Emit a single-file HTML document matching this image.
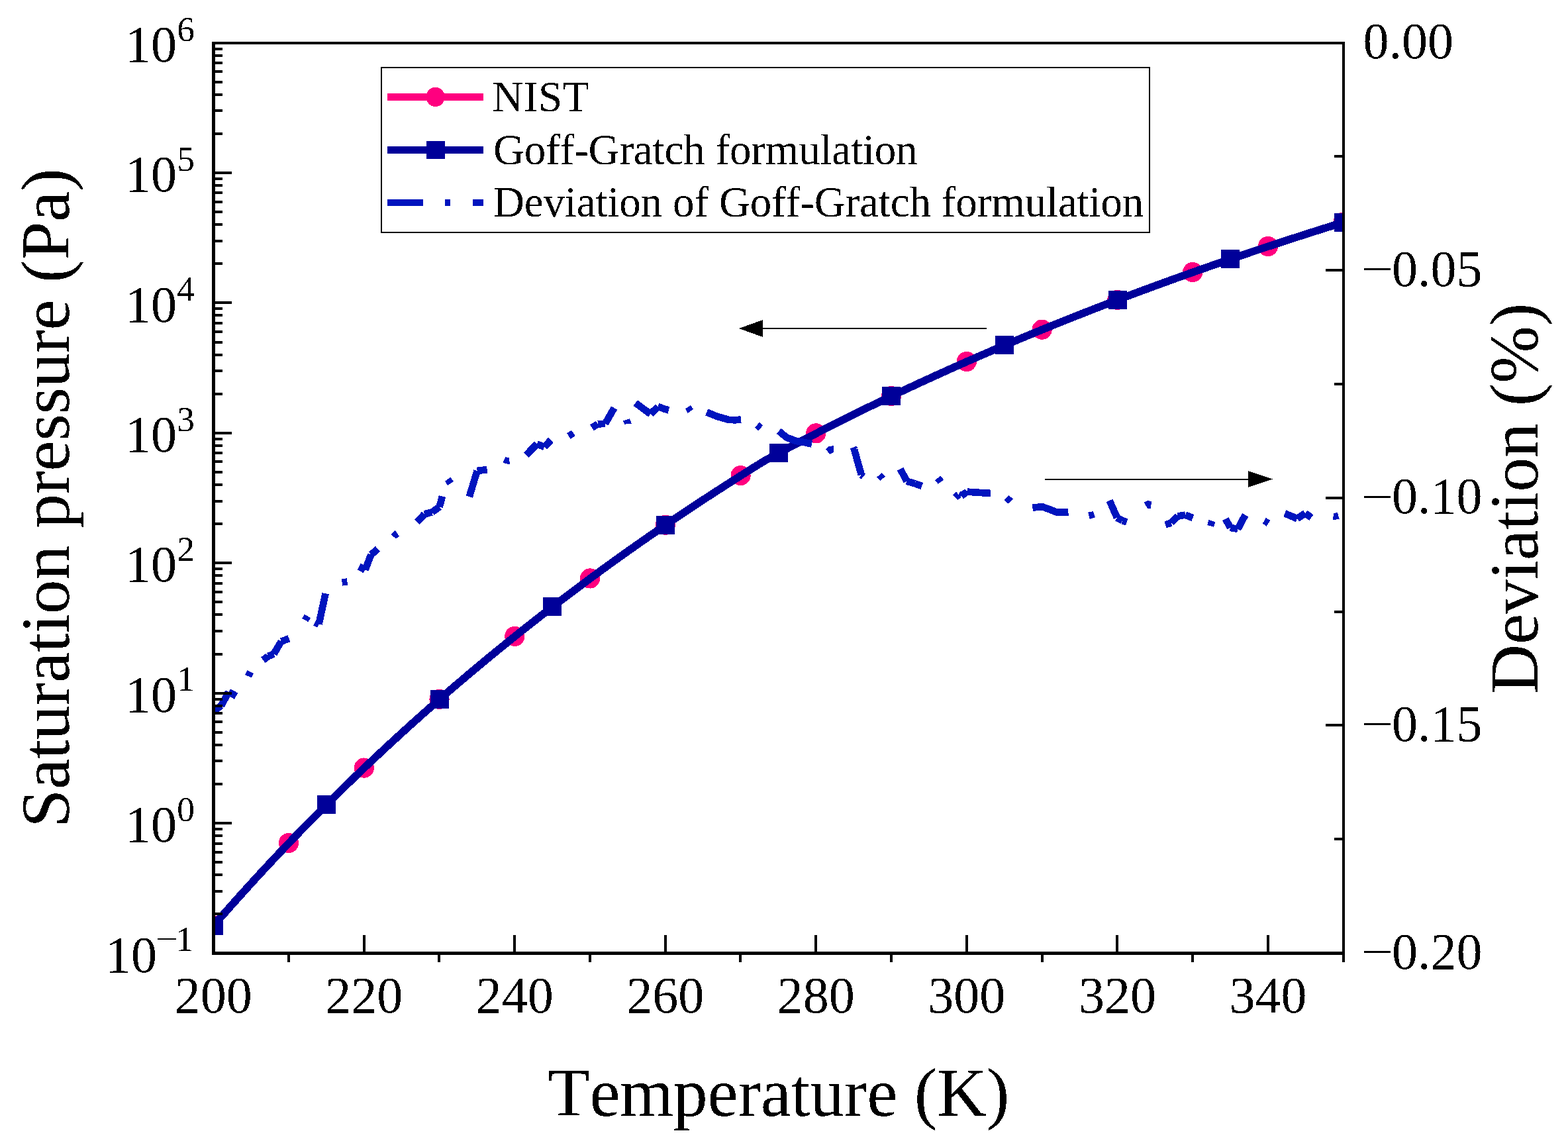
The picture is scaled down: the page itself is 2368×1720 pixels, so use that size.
<!DOCTYPE html>
<html lang="en"><head><meta charset="utf-8"><title>Saturation pressure vs temperature</title>
<style>html,body{margin:0;padding:0;background:#fff}svg{display:block}text{font-family:"Liberation Serif","DejaVu Serif",serif;fill:#000;font-kerning:none;font-variant-ligatures:none}.t{font-size:78px}.l{font-size:104px}.g{font-size:65px}.s{font-size:53.5px}</style></head><body>
<svg width="2368" height="1720" viewBox="0 0 2368 1720" role="img" aria-label="Saturation pressure and deviation versus temperature">
<rect width="2368" height="1720" fill="#fff"/>
<defs><filter id="bin" filterUnits="userSpaceOnUse" x="0" y="0" width="2368" height="1720" color-interpolation-filters="sRGB"><feComponentTransfer><feFuncA type="discrete" tableValues="0 0 1 1"/></feComponentTransfer></filter><clipPath id="ax"><rect x="322.5" y="65" width="1706.5" height="1374.5"/></clipPath></defs>
<g clip-path="url(#ax)" shape-rendering="crispEdges">
<path d="M322.5 1397.85 L328.19 1391.33 L333.88 1384.83 L339.56 1378.37 L345.25 1371.93 L350.94 1365.53 L356.63 1359.16 L362.32 1352.82 L368.01 1346.52 L373.69 1340.24 L379.38 1333.99 L385.07 1327.77 L390.76 1321.59 L396.45 1315.43 L402.14 1309.3 L407.82 1303.2 L413.51 1297.13 L419.2 1291.09 L424.89 1285.08 L430.58 1279.1 L436.27 1273.14 L441.95 1267.21 L447.64 1261.31 L453.33 1255.44 L459.02 1249.6 L464.71 1243.78 L470.4 1237.99 L476.09 1232.23 L481.77 1226.49 L487.46 1220.78 L493.15 1215.1 L498.84 1209.44 L504.53 1203.81 L510.22 1198.21 L515.9 1192.63 L521.59 1187.07 L527.28 1181.54 L532.97 1176.04 L538.66 1170.56 L544.35 1165.11 L550.03 1159.68 L555.72 1154.27 L561.41 1148.89 L567.1 1143.54 L572.79 1138.21 L578.48 1132.9 L584.16 1127.61 L589.85 1122.35 L595.54 1117.11 L601.23 1111.9 L606.92 1106.71 L612.61 1101.54 L618.29 1096.39 L623.98 1091.27 L629.67 1086.17 L635.36 1081.09 L641.05 1076.04 L646.74 1071 L652.42 1065.99 L658.11 1061 L663.8 1056.03 L669.49 1051.08 L675.18 1046.16 L680.87 1041.25 L686.55 1036.37 L692.24 1031.51 L697.93 1026.66 L703.62 1021.84 L709.31 1017.04 L715 1012.26 L720.68 1007.5 L726.37 1002.76 L732.06 998.04 L737.75 993.34 L743.44 988.66 L749.12 984 L754.81 979.36 L760.5 974.74 L766.19 970.14 L771.88 965.56 L777.57 960.99 L783.25 956.45 L788.94 951.92 L794.63 947.42 L800.32 942.93 L806.01 938.46 L811.7 934.01 L817.38 929.57 L823.07 925.16 L828.76 920.76 L834.45 916.38 L840.14 912.02 L845.83 907.68 L851.51 903.35 L857.2 899.04 L862.89 894.75 L868.58 890.48 L874.27 886.22 L879.96 881.98 L885.64 877.76 L891.33 873.56 L897.02 869.37 L902.71 865.2 L908.4 861.04 L914.09 856.9 L919.77 852.78 L925.46 848.67 L931.15 844.59 L936.84 840.51 L942.53 836.46 L948.22 832.41 L953.9 828.39 L959.59 824.38 L965.28 820.39 L970.97 816.41 L976.66 812.44 L982.35 808.5 L988.03 804.57 L993.72 800.65 L999.41 796.75 L1005.1 792.86 L1010.79 788.99 L1016.48 785.13 L1022.16 781.29 L1027.85 777.47 L1033.54 773.65 L1039.23 769.86 L1044.92 766.07 L1050.61 762.3 L1056.3 758.55 L1061.98 754.81 L1067.67 751.08 L1073.36 747.37 L1079.05 743.67 L1084.74 739.99 L1090.42 736.32 L1096.11 732.67 L1101.8 729.02 L1107.49 725.39 L1113.18 721.78 L1118.87 718.18 L1124.55 714.59 L1130.24 711.02 L1135.93 707.45 L1141.62 703.91 L1147.31 700.37 L1153 696.85 L1158.68 693.61 L1164.37 690.53 L1170.06 687.46 L1175.75 684.4 L1181.44 681.35 L1187.13 678.32 L1192.82 675.3 L1198.5 672.29 L1204.19 669.3 L1209.88 666.31 L1215.57 663.34 L1221.26 660.38 L1226.95 657.43 L1232.63 654.5 L1238.32 651.57 L1244.01 648.66 L1249.7 645.76 L1255.39 642.87 L1261.08 639.99 L1266.76 637.13 L1272.45 634.27 L1278.14 631.43 L1283.83 628.59 L1289.52 625.77 L1295.2 622.96 L1300.89 620.17 L1306.58 617.38 L1312.27 614.6 L1317.96 611.84 L1323.65 609.08 L1329.34 606.34 L1335.02 603.6 L1340.71 600.88 L1346.4 598.17 L1352.09 595.47 L1357.78 592.78 L1363.46 590.1 L1369.15 587.43 L1374.84 584.77 L1380.53 582.12 L1386.22 579.48 L1391.91 576.85 L1397.6 574.23 L1403.28 571.62 L1408.97 569.02 L1414.66 566.43 L1420.35 563.86 L1426.04 561.29 L1431.72 558.73 L1437.41 556.18 L1443.1 553.64 L1448.79 551.11 L1454.48 548.59 L1460.17 546.08 L1465.86 543.57 L1471.54 541.08 L1477.23 538.6 L1482.92 536.13 L1488.61 533.66 L1494.3 531.21 L1499.98 528.76 L1505.67 526.32 L1511.36 523.9 L1517.05 521.48 L1522.74 519.07 L1528.43 516.67 L1534.12 514.28 L1539.8 511.89 L1545.49 509.52 L1551.18 507.15 L1556.87 504.8 L1562.56 502.45 L1568.24 500.11 L1573.93 497.78 L1579.62 495.46 L1585.31 493.15 L1591 490.84 L1596.69 488.54 L1602.38 486.26 L1608.06 483.98 L1613.75 481.7 L1619.44 479.44 L1625.13 477.19 L1630.82 474.94 L1636.51 472.7 L1642.19 470.47 L1647.88 468.25 L1653.57 466.03 L1659.26 463.83 L1664.95 461.63 L1670.63 459.44 L1676.32 457.25 L1682.01 455.08 L1687.7 452.91 L1693.39 450.75 L1699.08 448.6 L1704.77 446.45 L1710.45 444.32 L1716.14 442.19 L1721.83 440.06 L1727.52 437.95 L1733.21 435.84 L1738.89 433.74 L1744.58 431.65 L1750.27 429.57 L1755.96 427.49 L1761.65 425.42 L1767.34 423.36 L1773.03 421.3 L1778.71 419.25 L1784.4 417.21 L1790.09 415.18 L1795.78 413.15 L1801.47 411.13 L1807.15 409.12 L1812.84 407.11 L1818.53 405.11 L1824.22 403.12 L1829.91 401.13 L1835.6 399.15 L1841.29 397.18 L1846.97 395.22 L1852.66 393.26 L1858.35 391.3 L1864.04 389.36 L1869.73 387.42 L1875.41 385.49 L1881.1 383.56 L1886.79 381.64 L1892.48 379.73 L1898.17 377.83 L1903.86 375.93 L1909.55 374.03 L1915.23 372.15 L1920.92 370.27 L1926.61 368.39 L1932.3 366.52 L1937.99 364.66 L1943.67 362.81 L1949.36 360.96 L1955.05 359.12 L1960.74 357.28 L1966.43 355.45 L1972.12 353.62 L1977.81 351.81 L1983.49 349.99 L1989.18 348.19 L1994.87 346.39 L2000.56 344.59 L2006.25 342.8 L2011.93 341.02 L2017.62 339.24 L2023.31 337.47 L2029 335.71" fill="none" stroke="#ff007f" stroke-width="11.6" stroke-linejoin="round"/>
<circle cx="322.2" cy="1397.75" r="15.1" fill="#ff007f"/>
<circle cx="435.97" cy="1273.04" r="15.1" fill="#ff007f"/>
<circle cx="549.73" cy="1159.58" r="15.1" fill="#ff007f"/>
<circle cx="663.5" cy="1055.93" r="15.1" fill="#ff007f"/>
<circle cx="777.27" cy="960.89" r="15.1" fill="#ff007f"/>
<circle cx="891.03" cy="873.46" r="15.1" fill="#ff007f"/>
<circle cx="1004.8" cy="792.76" r="15.1" fill="#ff007f"/>
<circle cx="1118.57" cy="718.08" r="15.1" fill="#ff007f"/>
<circle cx="1232.33" cy="654.4" r="15.1" fill="#ff007f"/>
<circle cx="1346.1" cy="598.07" r="15.1" fill="#ff007f"/>
<circle cx="1459.87" cy="545.98" r="15.1" fill="#ff007f"/>
<circle cx="1573.63" cy="497.68" r="15.1" fill="#ff007f"/>
<circle cx="1687.4" cy="452.81" r="15.1" fill="#ff007f"/>
<circle cx="1801.17" cy="411.03" r="15.1" fill="#ff007f"/>
<circle cx="1914.93" cy="372.05" r="15.1" fill="#ff007f"/>
<circle cx="2028.7" cy="335.61" r="15.1" fill="#ff007f"/>
<path d="M322.5 1397.85 L328.19 1391.33 L333.88 1384.83 L339.56 1378.37 L345.25 1371.93 L350.94 1365.53 L356.63 1359.16 L362.32 1352.82 L368.01 1346.52 L373.69 1340.24 L379.38 1333.99 L385.07 1327.77 L390.76 1321.59 L396.45 1315.43 L402.14 1309.3 L407.82 1303.2 L413.51 1297.13 L419.2 1291.09 L424.89 1285.08 L430.58 1279.1 L436.27 1273.14 L441.95 1267.21 L447.64 1261.31 L453.33 1255.44 L459.02 1249.6 L464.71 1243.78 L470.4 1237.99 L476.09 1232.23 L481.77 1226.49 L487.46 1220.78 L493.15 1215.1 L498.84 1209.44 L504.53 1203.81 L510.22 1198.21 L515.9 1192.63 L521.59 1187.07 L527.28 1181.54 L532.97 1176.04 L538.66 1170.56 L544.35 1165.11 L550.03 1159.68 L555.72 1154.27 L561.41 1148.89 L567.1 1143.54 L572.79 1138.21 L578.48 1132.9 L584.16 1127.61 L589.85 1122.35 L595.54 1117.11 L601.23 1111.9 L606.92 1106.71 L612.61 1101.54 L618.29 1096.39 L623.98 1091.27 L629.67 1086.17 L635.36 1081.09 L641.05 1076.04 L646.74 1071 L652.42 1065.99 L658.11 1061 L663.8 1056.03 L669.49 1051.08 L675.18 1046.16 L680.87 1041.25 L686.55 1036.37 L692.24 1031.51 L697.93 1026.66 L703.62 1021.84 L709.31 1017.04 L715 1012.26 L720.68 1007.5 L726.37 1002.76 L732.06 998.04 L737.75 993.34 L743.44 988.66 L749.12 984 L754.81 979.36 L760.5 974.74 L766.19 970.14 L771.88 965.56 L777.57 960.99 L783.25 956.45 L788.94 951.92 L794.63 947.42 L800.32 942.93 L806.01 938.46 L811.7 934.01 L817.38 929.57 L823.07 925.16 L828.76 920.76 L834.45 916.38 L840.14 912.02 L845.83 907.68 L851.51 903.35 L857.2 899.04 L862.89 894.75 L868.58 890.48 L874.27 886.22 L879.96 881.98 L885.64 877.76 L891.33 873.56 L897.02 869.37 L902.71 865.2 L908.4 861.04 L914.09 856.9 L919.77 852.78 L925.46 848.67 L931.15 844.59 L936.84 840.51 L942.53 836.46 L948.22 832.41 L953.9 828.39 L959.59 824.38 L965.28 820.39 L970.97 816.41 L976.66 812.44 L982.35 808.5 L988.03 804.57 L993.72 800.65 L999.41 796.75 L1005.1 792.86 L1010.79 788.99 L1016.48 785.13 L1022.16 781.29 L1027.85 777.47 L1033.54 773.65 L1039.23 769.86 L1044.92 766.07 L1050.61 762.3 L1056.3 758.55 L1061.98 754.81 L1067.67 751.08 L1073.36 747.37 L1079.05 743.67 L1084.74 739.99 L1090.42 736.32 L1096.11 732.67 L1101.8 729.02 L1107.49 725.39 L1113.18 721.78 L1118.87 718.18 L1124.55 714.59 L1130.24 711.02 L1135.93 707.45 L1141.62 703.91 L1147.31 700.37 L1153 696.85 L1158.68 693.61 L1164.37 690.53 L1170.06 687.46 L1175.75 684.4 L1181.44 681.35 L1187.13 678.32 L1192.82 675.3 L1198.5 672.29 L1204.19 669.3 L1209.88 666.31 L1215.57 663.34 L1221.26 660.38 L1226.95 657.43 L1232.63 654.5 L1238.32 651.57 L1244.01 648.66 L1249.7 645.76 L1255.39 642.87 L1261.08 639.99 L1266.76 637.13 L1272.45 634.27 L1278.14 631.43 L1283.83 628.59 L1289.52 625.77 L1295.2 622.96 L1300.89 620.17 L1306.58 617.38 L1312.27 614.6 L1317.96 611.84 L1323.65 609.08 L1329.34 606.34 L1335.02 603.6 L1340.71 600.88 L1346.4 598.17 L1352.09 595.47 L1357.78 592.78 L1363.46 590.1 L1369.15 587.43 L1374.84 584.77 L1380.53 582.12 L1386.22 579.48 L1391.91 576.85 L1397.6 574.23 L1403.28 571.62 L1408.97 569.02 L1414.66 566.43 L1420.35 563.86 L1426.04 561.29 L1431.72 558.73 L1437.41 556.18 L1443.1 553.64 L1448.79 551.11 L1454.48 548.59 L1460.17 546.08 L1465.86 543.57 L1471.54 541.08 L1477.23 538.6 L1482.92 536.13 L1488.61 533.66 L1494.3 531.21 L1499.98 528.76 L1505.67 526.32 L1511.36 523.9 L1517.05 521.48 L1522.74 519.07 L1528.43 516.67 L1534.12 514.28 L1539.8 511.89 L1545.49 509.52 L1551.18 507.15 L1556.87 504.8 L1562.56 502.45 L1568.24 500.11 L1573.93 497.78 L1579.62 495.46 L1585.31 493.15 L1591 490.84 L1596.69 488.54 L1602.38 486.26 L1608.06 483.98 L1613.75 481.7 L1619.44 479.44 L1625.13 477.19 L1630.82 474.94 L1636.51 472.7 L1642.19 470.47 L1647.88 468.25 L1653.57 466.03 L1659.26 463.83 L1664.95 461.63 L1670.63 459.44 L1676.32 457.25 L1682.01 455.08 L1687.7 452.91 L1693.39 450.75 L1699.08 448.6 L1704.77 446.45 L1710.45 444.32 L1716.14 442.19 L1721.83 440.06 L1727.52 437.95 L1733.21 435.84 L1738.89 433.74 L1744.58 431.65 L1750.27 429.57 L1755.96 427.49 L1761.65 425.42 L1767.34 423.36 L1773.03 421.3 L1778.71 419.25 L1784.4 417.21 L1790.09 415.18 L1795.78 413.15 L1801.47 411.13 L1807.15 409.12 L1812.84 407.11 L1818.53 405.11 L1824.22 403.12 L1829.91 401.13 L1835.6 399.15 L1841.29 397.18 L1846.97 395.22 L1852.66 393.26 L1858.35 391.3 L1864.04 389.36 L1869.73 387.42 L1875.41 385.49 L1881.1 383.56 L1886.79 381.64 L1892.48 379.73 L1898.17 377.83 L1903.86 375.93 L1909.55 374.03 L1915.23 372.15 L1920.92 370.27 L1926.61 368.39 L1932.3 366.52 L1937.99 364.66 L1943.67 362.81 L1949.36 360.96 L1955.05 359.12 L1960.74 357.28 L1966.43 355.45 L1972.12 353.62 L1977.81 351.81 L1983.49 349.99 L1989.18 348.19 L1994.87 346.39 L2000.56 344.59 L2006.25 342.8 L2011.93 341.02 L2017.62 339.24 L2023.31 337.47 L2029 335.71" fill="none" stroke="#000099" stroke-width="11.6" stroke-linejoin="round"/>
<rect x="308.5" y="1383.85" width="28" height="28" fill="#000099"/>
<rect x="479.15" y="1201.1" width="28" height="28" fill="#000099"/>
<rect x="649.8" y="1042.03" width="28" height="28" fill="#000099"/>
<rect x="820.45" y="902.38" width="28" height="28" fill="#000099"/>
<rect x="991.1" y="778.86" width="28" height="28" fill="#000099"/>
<rect x="1161.75" y="670.4" width="28" height="28" fill="#000099"/>
<rect x="1332.4" y="584.17" width="28" height="28" fill="#000099"/>
<rect x="1503.05" y="507.48" width="28" height="28" fill="#000099"/>
<rect x="1673.7" y="438.91" width="28" height="28" fill="#000099"/>
<rect x="1844.35" y="377.3" width="28" height="28" fill="#000099"/>
<rect x="2015" y="321.71" width="28" height="28" fill="#000099"/>
<path d="M322.5 1073.7 L333.9 1065.7 M333.9 1065.7 L345.4 1044.9 M345.4 1044.9 L356.6 1051.2" fill="none" stroke="#0014be" stroke-width="10.7"/>
<path d="M397.4 996.8 L405 991 M405 991 L413.5 987.6 M413.5 987.6 L424.8 968.5 M424.8 968.5 L436.5 964.4" fill="none" stroke="#0014be" stroke-width="10.7"/>
<path d="M475.8 939.8 L481.5 942.6 M481.5 942.6 L491.6 896.3" fill="none" stroke="#0014be" stroke-width="10.7"/>
<path d="M542.1 855.6 L551.4 860.6 M551.4 860.6 L560.4 837.6 M560.4 837.6 L570.5 828.9" fill="none" stroke="#0014be" stroke-width="10.7"/>
<path d="M629.8 788.5 L641 776.4 M641 776.4 L652.4 773.5 M652.4 773.5 L663.7 765.5 M663.7 765.5 L668 749.5" fill="none" stroke="#0014be" stroke-width="10.7"/>
<path d="M708.8 750.1 L720.6 711 M720.6 711 L735.7 709.1" fill="none" stroke="#0014be" stroke-width="10.7"/>
<path d="M794.8 686.9 L810.8 670.6 M810.8 670.6 L822.1 674.9 M822.1 674.9 L831.9 664.5" fill="none" stroke="#0014be" stroke-width="10.7"/>
<path d="M893.9 645.9 L902.7 640.4 M902.7 640.4 L914 639.9 M914 639.9 L927.6 616" fill="none" stroke="#0014be" stroke-width="10.7"/>
<path d="M959.7 608.5 L982.3 625.2 M982.3 625.2 L993.6 614.1 M993.6 614.1 L1005.1 618.1 M1005.1 618.1 L1010 619.4" fill="none" stroke="#0014be" stroke-width="10.7"/>
<path d="M1067.2 622.5 L1083.5 629.1 L1100.8 633.9 L1110.9 634.3 L1119 633.4" fill="none" stroke="#0014be" stroke-width="10.7" stroke-linejoin="round"/>
<path d="M1176.2 650.9 L1187.7 660.5 L1201.7 665.8 L1215.7 668.2 L1226 670.5" fill="none" stroke="#0014be" stroke-width="10.7" stroke-linejoin="round"/>
<path d="M1288.8 675.5 L1290.1 678.8 M1290.1 678.8 L1300.8 716.9 M1300.8 716.9 L1304.1 719.5" fill="none" stroke="#0014be" stroke-width="10.7"/>
<path d="M1359.7 708.2 L1369.3 726.6 M1369.3 726.6 L1381.6 730.2 M1381.6 730.2 L1392.3 734" fill="none" stroke="#0014be" stroke-width="10.7"/>
<path d="M1442.8 751.3 L1447.7 746.9 M1447.7 746.9 L1451.7 748.9 M1451.7 748.9 L1460.4 742.6 M1460.4 742.6 L1480.4 744 M1480.4 744 L1495.8 744.9" fill="none" stroke="#0014be" stroke-width="10.7"/>
<path d="M1559.4 766.5 L1574.1 765.3 L1585.5 769.3 L1596.2 773.8 L1613.5 773.6" fill="none" stroke="#0014be" stroke-width="10.7" stroke-linejoin="round"/>
<path d="M1675.6 755.9 L1687 781.8 M1687 781.8 L1695 786.3 M1695 786.3 L1701.7 788.3" fill="none" stroke="#0014be" stroke-width="10.7"/>
<path d="M1760 792.3 L1768.7 789.6 M1768.7 789.6 L1778.7 779.6 M1778.7 779.6 L1790.1 777.6 M1790.1 777.6 L1801.4 782.2" fill="none" stroke="#0014be" stroke-width="10.7"/>
<path d="M1850.9 783.6 L1857.9 796.9 M1857.9 796.9 L1869.3 798.9 M1869.3 798.9 L1880.6 777.6" fill="none" stroke="#0014be" stroke-width="10.7"/>
<path d="M1940.3 775.3 L1959 783.2 M1959 783.2 L1971.1 775.2 M1971.1 775.2 L1980.4 781.6" fill="none" stroke="#0014be" stroke-width="10.7"/>
<path d="M374.9 1021.2 L378.1 1014.5" fill="none" stroke="#0014be" stroke-width="10.7"/>
<path d="M460.9 936.5 L464.4 930.4" fill="none" stroke="#0014be" stroke-width="10.7"/>
<polygon points="516,874.3 524,873.3 525,883.7 517,884.6" fill="#0014be"/>
<polygon points="590.2,806.9 596.8,800.9 602.8,809.6 598.2,813.6" fill="#0014be"/>
<polygon points="672,726.7 680.3,720.7 685,727 676,733" fill="#0014be"/>
<polygon points="763.4,690.3 768.7,690.9 770.1,701.6 759.4,698.9" fill="#0014be"/>
<polygon points="856.2,654.2 862.9,649.8 868.9,658.2 861.5,662.9" fill="#0014be"/>
<polygon points="941,635.5 951,632.2 953.7,639.5 943,640.8" fill="#0014be"/>
<polygon points="1035,617.5 1043,612.1 1047,617.9 1038.7,623.9" fill="#0014be"/>
<polygon points="1146.9,637.9 1152,642.8 1144.9,650.9 1139.8,645.5" fill="#0014be"/>
<polygon points="1246.9,678.1 1252,674.1 1258.7,673.2 1258.7,683.1 1253.1,686.1" fill="#0014be"/>
<polygon points="1324.1,720.6 1331.9,713.9 1337.2,719.3 1329.5,725.8" fill="#0014be"/>
<polygon points="1412,724.9 1420.3,718.9 1425.3,724.5 1416.6,730.9" fill="#0014be"/>
<polygon points="1516.7,754.9 1523.8,748 1529.8,753.6 1522.1,760.9" fill="#0014be"/>
<polygon points="1643.2,773.8 1650.7,772 1653.9,781.3 1645.9,784" fill="#0014be"/>
<polygon points="1727.7,758.9 1733.7,755.9 1739.1,757.3 1737.7,768 1733.1,768" fill="#0014be"/>
<polygon points="1825.5,784.9 1835.5,788.3 1832.8,795.6 1823.1,792.9" fill="#0014be"/>
<polygon points="1907,790.3 1911.6,781.8 1918.3,785.9 1915,790.9 1912.3,794.9" fill="#0014be"/>
<polygon points="2014.5,774.9 2019.8,774.2 2022.9,784.2 2012.7,784.9" fill="#0014be"/>
</g>
<g shape-rendering="crispEdges" fill="#000">
<rect x="1150" y="495" width="340" height="2"/>
<polygon points="1116,496 1152,483 1152,509"/>
<rect x="1578" y="723" width="309" height="2"/>
<polygon points="1922,723.6 1885,711 1885,736"/>
</g>
<g shape-rendering="crispEdges" fill="#000">
<rect x="322" y="200" width="14" height="4"/>
<rect x="322" y="165" width="14" height="4"/>
<rect x="322" y="141" width="14" height="4"/>
<rect x="322" y="122" width="14" height="4"/>
<rect x="322" y="106" width="14" height="4"/>
<rect x="322" y="93" width="14" height="4"/>
<rect x="322" y="82" width="14" height="4"/>
<rect x="322" y="72" width="14" height="4"/>
<rect x="322" y="259" width="28" height="4"/>
<rect x="322" y="396" width="14" height="4"/>
<rect x="322" y="362" width="14" height="4"/>
<rect x="322" y="337" width="14" height="4"/>
<rect x="322" y="318" width="14" height="4"/>
<rect x="322" y="303" width="14" height="4"/>
<rect x="322" y="289" width="14" height="4"/>
<rect x="322" y="278" width="14" height="4"/>
<rect x="322" y="268" width="14" height="4"/>
<rect x="322" y="455" width="28" height="4"/>
<rect x="322" y="593" width="14" height="4"/>
<rect x="322" y="558" width="14" height="4"/>
<rect x="322" y="534" width="14" height="4"/>
<rect x="322" y="515" width="14" height="4"/>
<rect x="322" y="499" width="14" height="4"/>
<rect x="322" y="486" width="14" height="4"/>
<rect x="322" y="474" width="14" height="4"/>
<rect x="322" y="464" width="14" height="4"/>
<rect x="322" y="652" width="28" height="4"/>
<rect x="322" y="789" width="14" height="4"/>
<rect x="322" y="755" width="14" height="4"/>
<rect x="322" y="730" width="14" height="4"/>
<rect x="322" y="711" width="14" height="4"/>
<rect x="322" y="695" width="14" height="4"/>
<rect x="322" y="682" width="14" height="4"/>
<rect x="322" y="671" width="14" height="4"/>
<rect x="322" y="661" width="14" height="4"/>
<rect x="322" y="848" width="28" height="4"/>
<rect x="322" y="986" width="14" height="4"/>
<rect x="322" y="951" width="14" height="4"/>
<rect x="322" y="926" width="14" height="4"/>
<rect x="322" y="907" width="14" height="4"/>
<rect x="322" y="892" width="14" height="4"/>
<rect x="322" y="879" width="14" height="4"/>
<rect x="322" y="867" width="14" height="4"/>
<rect x="322" y="857" width="14" height="4"/>
<rect x="322" y="1045" width="28" height="4"/>
<rect x="322" y="1182" width="14" height="4"/>
<rect x="322" y="1147" width="14" height="4"/>
<rect x="322" y="1123" width="14" height="4"/>
<rect x="322" y="1104" width="14" height="4"/>
<rect x="322" y="1088" width="14" height="4"/>
<rect x="322" y="1075" width="14" height="4"/>
<rect x="322" y="1064" width="14" height="4"/>
<rect x="322" y="1054" width="14" height="4"/>
<rect x="322" y="1241" width="28" height="4"/>
<rect x="322" y="1378" width="14" height="4"/>
<rect x="322" y="1344" width="14" height="4"/>
<rect x="322" y="1319" width="14" height="4"/>
<rect x="322" y="1300" width="14" height="4"/>
<rect x="322" y="1285" width="14" height="4"/>
<rect x="322" y="1272" width="14" height="4"/>
<rect x="322" y="1260" width="14" height="4"/>
<rect x="322" y="1250" width="14" height="4"/>
<rect x="434" y="1440" width="4" height="13"/>
<rect x="548" y="1412" width="4" height="28"/>
<rect x="661" y="1440" width="4" height="13"/>
<rect x="775" y="1412" width="4" height="28"/>
<rect x="889" y="1440" width="4" height="13"/>
<rect x="1003" y="1412" width="4" height="28"/>
<rect x="1116" y="1440" width="4" height="13"/>
<rect x="1230" y="1412" width="4" height="28"/>
<rect x="1344" y="1440" width="4" height="13"/>
<rect x="1458" y="1412" width="4" height="28"/>
<rect x="1572" y="1440" width="4" height="13"/>
<rect x="1685" y="1412" width="4" height="28"/>
<rect x="1799" y="1440" width="4" height="13"/>
<rect x="1913" y="1412" width="4" height="28"/>
<rect x="2027" y="1440" width="4" height="13"/>
<rect x="2015" y="234" width="14" height="4"/>
<rect x="2002" y="406" width="27" height="4"/>
<rect x="2015" y="578" width="14" height="4"/>
<rect x="2002" y="750" width="27" height="4"/>
<rect x="2015" y="922" width="14" height="4"/>
<rect x="2002" y="1093" width="27" height="4"/>
<rect x="2015" y="1265" width="14" height="4"/>
<rect x="320" y="63" width="5" height="1379"/>
<rect x="2027" y="63" width="4" height="1379"/>
<rect x="320" y="63" width="1711" height="4"/>
<rect x="320" y="1437" width="1711" height="5"/>
</g>
<g shape-rendering="crispEdges">
<rect x="576" y="102" width="1160" height="249" fill="#fff" stroke="#000" stroke-width="2"/>
<rect x="585" y="141" width="145" height="11" fill="#ff007f"/>
<rect x="585" y="221" width="145" height="11" fill="#000099"/>
<rect x="644" y="213" width="28" height="27" fill="#000099"/>
<rect x="585" y="301" width="54" height="10" fill="#0014be"/>
<rect x="672" y="301" width="8" height="10" fill="#0014be"/>
<rect x="714" y="301" width="16" height="10" fill="#0014be"/>
</g>
<ellipse cx="657.6" cy="146.4" rx="14.1" ry="14.7" fill="#ff007f" shape-rendering="crispEdges"/>
<g filter="url(#bin)">
<text class="g" x="743.3" y="168.2" textLength="146.2" lengthAdjust="spacing">NIST</text>
<text class="g" x="745.1" y="247.6" textLength="640.5" lengthAdjust="spacing">Goff-Gratch formulation</text>
<text class="g" x="744.9" y="327.2" textLength="982.4" lengthAdjust="spacing">Deviation of Goff-Gratch formulation</text>
<text class="t" x="322.2" y="1529.2" text-anchor="middle">200</text>
<text class="t" x="549.73" y="1529.2" text-anchor="middle">220</text>
<text class="t" x="777.27" y="1529.2" text-anchor="middle">240</text>
<text class="t" x="1004.8" y="1529.2" text-anchor="middle">260</text>
<text class="t" x="1232.33" y="1529.2" text-anchor="middle">280</text>
<text class="t" x="1459.87" y="1529.2" text-anchor="middle">300</text>
<text class="t" x="1687.4" y="1529.2" text-anchor="middle">320</text>
<text class="t" x="1914.93" y="1529.2" text-anchor="middle">340</text>
<text class="t" x="189" y="93">10<tspan class="s" x="267.2" y="61.6">6</tspan></text>
<text class="t" x="189" y="289.36">10<tspan class="s" x="267.2" y="257.96">5</tspan></text>
<text class="t" x="189" y="485.71">10<tspan class="s" x="267.2" y="454.31">4</tspan></text>
<text class="t" x="189" y="682.07">10<tspan class="s" x="267.2" y="650.67">3</tspan></text>
<text class="t" x="189" y="878.43">10<tspan class="s" x="267.2" y="847.03">2</tspan></text>
<text class="t" x="189" y="1074.79">10<tspan class="s" x="267.2" y="1043.39">1</tspan></text>
<text class="t" x="189" y="1271.14">10<tspan class="s" x="267.2" y="1239.74">0</tspan></text>
<text class="t" x="159.1" y="1467.5">10</text>
<text class="s" transform="translate(234.9 1433.45) scale(1.133 0.85)">−</text>
<text class="s" x="265.5" y="1436.1">1</text>
<text class="t" x="2058.5" y="88">0.00</text>
<text class="t" transform="translate(2055.6 426.02) scale(1.105 0.76)">−</text>
<text class="t" x="2102" y="431.62">0.05</text>
<text class="t" transform="translate(2055.6 769.65) scale(1.105 0.76)">−</text>
<text class="t" x="2102" y="775.25">0.10</text>
<text class="t" transform="translate(2055.6 1113.28) scale(1.105 0.76)">−</text>
<text class="t" x="2102" y="1118.88">0.15</text>
<text class="t" transform="translate(2055.6 1456.9) scale(1.105 0.76)">−</text>
<text class="t" x="2102" y="1462.5">0.20</text>
<text class="l" x="827.2" y="1684.7" textLength="697.3" lengthAdjust="spacing">Temperature (K)</text>
<text class="l" transform="translate(103.8 1249.6) rotate(-90)" textLength="995.5" lengthAdjust="spacing">Saturation pressure (Pa)</text>
<text class="l" transform="translate(2321.9 1048) rotate(-90)" textLength="590.5" lengthAdjust="spacing">Deviation (%)</text>
</g>
</svg></body></html>
